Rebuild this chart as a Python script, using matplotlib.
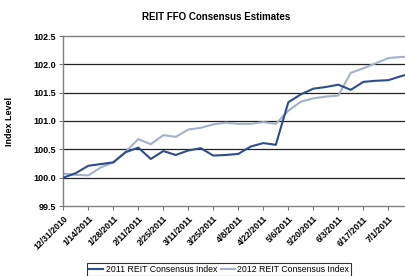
import matplotlib
matplotlib.use("Agg")
import matplotlib.pyplot as plt
import numpy as np

plt.rcParams['font.family'] = ['Liberation Sans', 'DejaVu Sans']

# weekly observations starting 12/31/2010 (week index)
weeks = list(range(29))
reit_2011 = [100.00, 100.08, 100.21, 100.24, 100.27, 100.45, 100.53, 100.33, 100.47, 100.40,
             100.48, 100.52, 100.39, 100.40, 100.42, 100.55, 100.61, 100.58, 101.33, 101.47,
             101.57, 101.60, 101.64, 101.55, 101.69, 101.71, 101.72, 101.79, 101.85]
reit_2012 = [100.07, 100.05, 100.04, 100.18, 100.27, 100.46, 100.68, 100.59, 100.75, 100.72,
             100.85, 100.88, 100.94, 100.97, 100.95, 100.95, 100.98, 100.95, 101.18, 101.34,
             101.40, 101.43, 101.45, 101.85, 101.93, 102.02, 102.11, 102.13, 102.14]
tick_weeks = list(range(0, 28, 2))
tick_labels = ['12/31/2010', '1/14/2011', '1/28/2011', '2/11/2011', '2/25/2011', '3/11/2011',
               '3/25/2011', '4/8/2011', '4/22/2011', '5/6/2011', '5/20/2011', '6/3/2011',
               '6/17/2011', '7/1/2011']
y_ticks = [99.5, 100.0, 100.5, 101.0, 101.5, 102.0, 102.5]

W, H = 405, 276
fig = plt.figure(figsize=(W / 100, H / 100), dpi=100)
left, right, top, bottom = 63.3, 405, 36, 206
ax = fig.add_axes([left / W, 1 - bottom / H, (right - left) / W, (bottom - top) / H])

for y in y_ticks[1:-1]:
    ax.axhline(y, color='#222222', lw=0.9, zorder=1)

ax.plot(weeks, reit_2011, color='#2D4D8E', lw=1.5, label='2011 REIT Consensus Index', zorder=3)
ax.plot(weeks, reit_2012, color='#A3B1CC', lw=1.5, label='2012 REIT Consensus Index', zorder=2)

ax.set_xlim(0, (right - left) / 12.5)
ax.set_ylim(99.5, 102.5)
ax.set_yticks(y_ticks)
ax.set_yticklabels([f'{v:.1f}' for v in y_ticks], fontsize=6.5, fontweight='bold')
ax.set_xticks(tick_weeks)
ax.set_xticklabels(tick_labels, rotation=45, ha='right', rotation_mode='anchor',
                   fontsize=6.3, fontweight='bold')
ax.tick_params(axis='both', direction='out', length=3, width=0.8, color='#777777', pad=2)
ax.tick_params(axis='x', pad=3)

for s in ['left', 'bottom', 'top']:
    ax.spines[s].set_color('#808080')
    ax.spines[s].set_linewidth(1.0)
ax.spines['right'].set_visible(False)

fig.text(216 / W, 1 - 17 / H, 'REIT FFO Consensus Estimates', ha='center', va='center',
         fontsize=7, fontweight='bold')
fig.text(10 / W, 1 - 122 / H, 'Index Level', ha='center', va='center', rotation=90,
         fontsize=6.5, fontweight='bold')

leg = fig.legend(loc='upper center', bbox_to_anchor=(219 / W, 1 - 262.5 / H), ncol=2,
                 fontsize=6.3, frameon=True, fancybox=False, handlelength=1.6,
                 handletextpad=0.3, columnspacing=0.4, borderpad=0.25, borderaxespad=0)
leg.get_frame().set_edgecolor('black')
leg.get_frame().set_linewidth(0.8)

fig.savefig('out.png', dpi=100)
